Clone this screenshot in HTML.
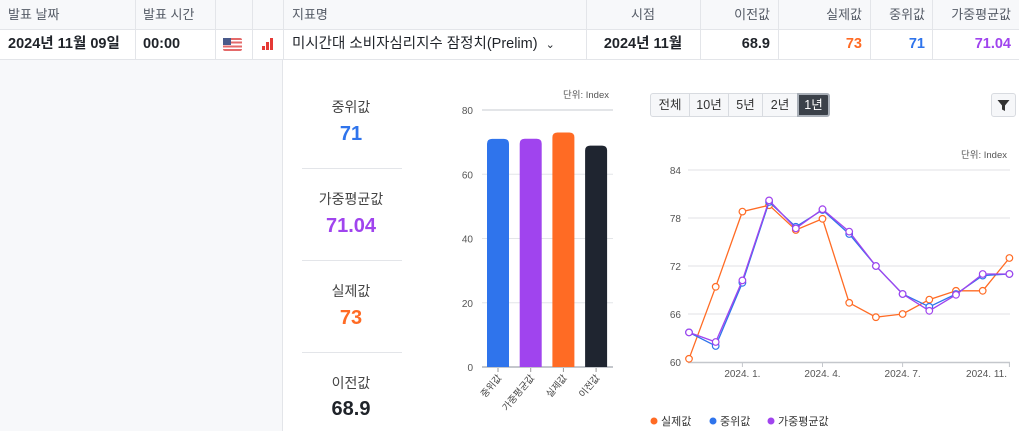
<!DOCTYPE html>
<html><head><meta charset="utf-8">
<style>
*{box-sizing:border-box;margin:0;padding:0}
body{width:1019px;height:431px;overflow:hidden;background:#fff;font-family:"Liberation Sans","Noto Sans CJK KR",sans-serif;color:#1f2329;position:relative}
.a{position:absolute}
.hd{font-size:13px;color:#555b66;top:0;height:30px;line-height:30px}
.cell{font-size:14.5px;font-weight:bold;top:30px;height:29px;line-height:29px}
.vl{position:absolute;width:1px;background:#e3e5e9;top:0;height:59px}
.lbl{font-size:14px;color:#444;width:140px;text-align:center;left:281px}
.val{font-size:20px;font-weight:bold;width:140px;text-align:center;left:281px}
.btn{position:absolute;top:93px;height:24px;line-height:23px;font-size:12.5px;text-align:center;border:1px solid #d8dbe0;background:#f6f7f9;color:#333}
</style></head><body>
<div class="a" style="left:0;top:0;width:1019px;height:30px;background:#f7f8fa;border-bottom:1px solid #e3e5e9"></div>
<div class="a" style="left:0;top:59px;width:1019px;height:1px;background:#e3e5e9"></div>
<div class="a" style="left:0;top:60px;width:283px;height:371px;background:#f7f8fa;border-right:1px solid #e3e5e9"></div>
<div class="vl" style="left:135px"></div><div class="vl" style="left:215px"></div><div class="vl" style="left:252px"></div><div class="vl" style="left:283px"></div><div class="vl" style="left:586px"></div><div class="vl" style="left:700px"></div><div class="vl" style="left:778px"></div><div class="vl" style="left:870px"></div><div class="vl" style="left:932px"></div>
<div class="a hd" style="left:8px">발표 날짜</div>
<div class="a hd" style="left:143px">발표 시간</div>
<div class="a hd" style="left:292px">지표명</div>
<div class="a hd" style="left:586px;width:114px;text-align:center">시점</div>
<div class="a hd" style="left:700px;width:70px;text-align:right">이전값</div>
<div class="a hd" style="left:778px;width:84px;text-align:right">실제값</div>
<div class="a hd" style="left:870px;width:55px;text-align:right">중위값</div>
<div class="a hd" style="left:932px;width:79px;text-align:right">가중평균값</div>
<div class="a cell" style="left:8px">2024년 11월 09일</div>
<div class="a cell" style="left:143px">00:00</div>
<div class="a" style="left:223px;top:38px;width:19px;height:13px;border-radius:2px;background:repeating-linear-gradient(#e46a6a 0 1.9px,#fff 1.9px 3.7px)"><div style="width:8px;height:7px;background:#4a5a8a"></div></div>
<div class="a" style="left:262px;top:38px;width:12px;height:12px">
<div class="a" style="left:0;top:8px;width:3px;height:4px;background:#e53935"></div><div class="a" style="left:4px;top:4px;width:3px;height:8px;background:#e53935"></div><div class="a" style="left:8px;top:0;width:3px;height:12px;background:#e53935"></div></div>
<div class="a cell" style="left:292px;font-weight:normal;color:#1f2329">미시간대 소비자심리지수 잠정치(Prelim) <span style="font-size:11px;margin-left:4px">⌄</span></div>
<div class="a cell" style="left:586px;width:114px;text-align:center">2024년 11월</div>
<div class="a cell" style="left:700px;width:70px;text-align:right">68.9</div>
<div class="a cell" style="left:778px;width:84px;text-align:right;color:#ff6b24">73</div>
<div class="a cell" style="left:870px;width:55px;text-align:right;color:#2f74ec">71</div>
<div class="a cell" style="left:932px;width:79px;text-align:right;color:#a044ee">71.04</div>

<div class="a lbl" style="top:97px">중위값</div>
<div class="a val" style="top:123px;color:#2f74ec">71</div>
<div class="a" style="left:302px;top:168px;width:100px;height:1px;background:#e3e5e9"></div>
<div class="a lbl" style="top:189px">가중평균값</div>
<div class="a val" style="top:215px;color:#a044ee">71.04</div>
<div class="a" style="left:302px;top:260px;width:100px;height:1px;background:#e3e5e9"></div>
<div class="a lbl" style="top:281px">실제값</div>
<div class="a val" style="top:307px;color:#ff6b24">73</div>
<div class="a" style="left:302px;top:352px;width:100px;height:1px;background:#e3e5e9"></div>
<div class="a lbl" style="top:373px">이전값</div>
<div class="a val" style="top:398px;color:#1f2329">68.9</div>

<div class="btn" style="left:650px;width:40px;border-radius:3px 0 0 3px">전체</div>
<div class="btn" style="left:689px;width:40px">10년</div>
<div class="btn" style="left:728px;width:35px">5년</div>
<div class="btn" style="left:762px;width:36px">2년</div>
<div class="btn" style="left:797px;width:33px;background:#3b4149;color:#fff;border-color:#aab0b8;border-width:2px;border-radius:0 3px 3px 0;line-height:20px">1년</div>
<div class="btn" style="left:991px;width:25px;border-radius:3px"><svg width="13" height="13" viewBox="0 0 13 13" style="margin-top:5px"><path d="M0.5,1 H12.5 L8,6.5 V12 L5,10.5 V6.5 Z" fill="#333"/></svg></div>

<svg class="a" style="left:0;top:0" width="1019" height="431" id="svg"></svg>
<script>
const barCats=["중위값","가중평균값","실제값","이전값"];
const barVals=[71,71.04,73,68.9];
const barTicks=[0,20,40,60,80];
const lineCats=["2023-11","2023-12","2024-01","2024-02","2024-03","2024-04","2024-05","2024-06","2024-07","2024-08","2024-09","2024-10","2024-11"];
const actualVals=[60.4,69.4,78.8,79.6,76.5,77.9,67.4,65.6,66.0,67.8,68.9,68.9,73.0];
const medianVals=[63.7,62.0,69.9,80.0,76.9,79.0,76.0,72.0,68.5,66.9,68.5,70.8,71.0];
const weightedVals=[63.7,62.5,70.2,80.2,76.7,79.1,76.3,72.0,68.5,66.4,68.4,71.0,71.0];
const lineTicks=[60,66,72,78,84];
const xTickIdx=[2,5,8,12];
const xTickLabels=["2024. 1.","2024. 4.","2024. 7.","2024. 11."];
const svg=document.getElementById('svg');const NS='http://www.w3.org/2000/svg';
function mk(t,a,txt){const e=document.createElementNS(NS,t);for(const k in a)e.setAttribute(k,a[k]);if(txt!=null)e.textContent=txt;svg.appendChild(e);return e;}
const F='"Liberation Sans","Noto Sans CJK KR",sans-serif';
const by=v=>367-v*(257/80), bx=i=>498+i*32.7;
barTicks.forEach(t=>{const g=mk('line',{x1:482,x2:613,y1:by(t),y2:by(t),stroke:t==0?'#c4c7cc':'#e3e5e8','stroke-width':t==0||t==80?2:1});
const l=mk('text',{x:473,y:by(t)+4,'text-anchor':'end','font-size':10,fill:'#555','font-family':F},t);});
mk('text',{x:609,y:98,'text-anchor':'end','font-size':9.5,fill:'#555','font-family':F},'단위: Index');
const colors=['#2f74ec','#a044ee','#ff6b24','#1f2530'];
barVals.forEach((v,i)=>{const r=mk('path',{d:`M${bx(i)-11},367 V${by(v)+5} Q${bx(i)-11},${by(v)} ${bx(i)-6},${by(v)} H${bx(i)+6} Q${bx(i)+11},${by(v)} ${bx(i)+11},${by(v)+5} V367 Z`,fill:colors[i]});
mk('line',{x1:bx(i),x2:bx(i),y1:368,y2:372,stroke:'#999'});
const t=mk('text',{x:bx(i)+4,y:378,'text-anchor':'end','font-size':9.5,fill:'#444','font-family':F,transform:`rotate(-50 ${bx(i)+4} 378)`},barCats[i]);});
const lx=i=>689+i*26.7, ly=v=>362-(v-60)*8;
lineTicks.forEach(t=>{if(t>60){const g=mk('line',{x1:688,x2:1010,y1:ly(t),y2:ly(t),stroke:'#ececee','stroke-width':1.5});}
const l=mk('text',{x:681,y:ly(t)+4,'text-anchor':'end','font-size':10,fill:'#555','font-family':F},t);});
mk('line',{x1:688,x2:1010,y1:362.5,y2:362.5,stroke:'#c4c7cc','stroke-width':1.5});
mk('line',{x1:1009.5,x2:1009.5,y1:362,y2:367,stroke:'#c4c7cc'});
mk('text',{x:1007,y:158,'text-anchor':'end','font-size':9.5,fill:'#555','font-family':F},'단위: Index');
xTickIdx.forEach((ix,k)=>{mk('line',{x1:lx(ix),x2:lx(ix),y1:362,y2:367,stroke:'#c4c7cc'});
const l=mk('text',{x:k==3?1007:lx(ix),y:377,'text-anchor':k==3?'end':'middle','font-size':10,fill:'#555','font-family':F},xTickLabels[k]);});
[[actualVals,'#ff6b24','actual'],[medianVals,'#2f74ec','median'],[weightedVals,'#a044ee','weighted']].forEach(([vals,c,n])=>{
const p=mk('polyline',{points:vals.map((v,i)=>lx(i)+','+ly(v)).join(' '),fill:'none',stroke:c,'stroke-width':1.3});
vals.forEach((v,i)=>{const d=mk('circle',{cx:lx(i),cy:ly(v),r:3.3,fill:'#fff',stroke:c,'stroke-width':1.2});});});
[['실제값','#ff6b24',654],['중위값','#2f74ec',713],['가중평균값','#a044ee',771]].forEach(([t,c,x])=>{
const d=mk('circle',{cx:x,cy:421,r:3.5,fill:c});
const l=mk('text',{x:x+7,y:425,'font-size':11,fill:'#333','font-family':F},t);});
</script>
</body></html>
